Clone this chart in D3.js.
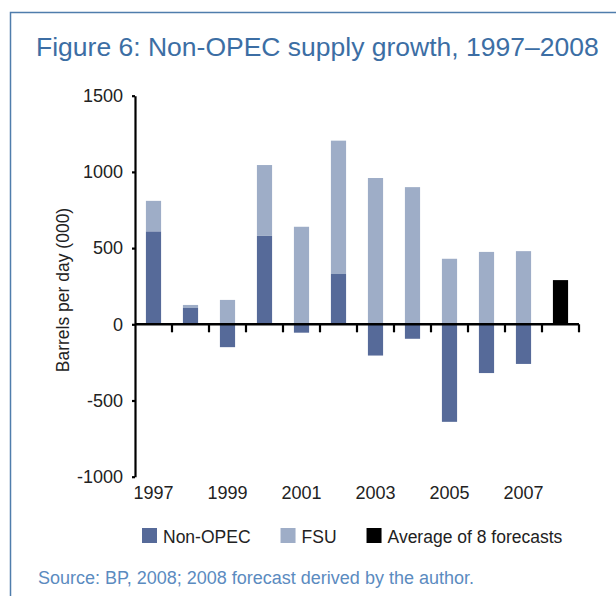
<!DOCTYPE html>
<html>
<head>
<meta charset="utf-8">
<script src="https://cdn.jsdelivr.net/npm/d3@7"></script>
<style>
  body { margin: 0; background: #fff; }
  svg { display: block; font-family: "Liberation Sans", Arial, sans-serif; }
</style>
</head>
<body>
<div id="chart"></div>
<script>
// data (thousand barrels per day)
const years = ["1997", "1998", "1999", "2000", "2001", "2002", "2003", "2004", "2005", "2006", "2007", "2008"];
const nonOpec = [610, 107, -150, 580, -55, 330, -205, -95, -640, -320, -260, null];
const fsu = [200, 20, 160, 465, 640, 875, 960, 900, 430, 475, 480, null];
const forecast = [null, null, null, null, null, null, null, null, null, null, null, 290];
const xTickLabels = ["1997", "1999", "2001", "2003", "2005", "2007"];
const yTicks = [-1000, -500, 0, 500, 1000, 1500];
const seriesNames = ["Non-OPEC", "FSU", "Average of 8 forecasts"];
const seriesColors = ["#566a99", "#9eadc7", "#000000"];

const width = 616, height = 596;
const plot = { left: 135, right: 579, top: 95.7, bottom: 476.7 };

const svg = d3.select("#chart").append("svg")
    .attr("width", width)
    .attr("height", height);

svg.append("rect").attr("width", width).attr("height", height).attr("fill", "#fff");

// frame of the figure box (top and left edges only)
svg.append("path")
    .attr("d", `M10.5,${height} V12.5 H${width}`)
    .attr("fill", "none")
    .attr("stroke", "#4f7dac")
    .attr("stroke-width", 1.5);

// title
svg.append("text")
    .attr("x", 36)
    .attr("y", 56)
    .attr("fill", "#3c6ea4")
    .style("font-size", "26.5px")
    .text("Figure 6: Non-OPEC supply growth, 1997\u20132008");

const x = d3.scaleBand()
    .domain(years)
    .range([plot.left, plot.right])
    .paddingInner(0.59)
    .paddingOuter(0.295);

const y = d3.scaleLinear()
    .domain([-1000, 1500])
    .range([plot.bottom, plot.top]);

// stacked bars: Non-OPEC from zero, FSU on top of the positive part
const rows = years.map((yr, i) => ({
    year: yr,
    nonOpec: nonOpec[i],
    fsu: fsu[i],
    forecast: forecast[i]
}));

const g = svg.append("g");

g.selectAll("rect.nonopec")
    .data(rows.filter(d => d.nonOpec != null))
    .enter().append("rect")
    .attr("class", "nonopec")
    .attr("x", d => x(d.year))
    .attr("width", x.bandwidth())
    .attr("y", d => y(Math.max(0, d.nonOpec)))
    .attr("height", d => Math.abs(y(d.nonOpec) - y(0)))
    .attr("fill", seriesColors[0]);

g.selectAll("rect.fsu")
    .data(rows.filter(d => d.fsu != null))
    .enter().append("rect")
    .attr("class", "fsu")
    .attr("x", d => x(d.year))
    .attr("width", x.bandwidth())
    .attr("y", d => y(Math.max(0, d.nonOpec) + d.fsu))
    .attr("height", d => y(Math.max(0, d.nonOpec)) - y(Math.max(0, d.nonOpec) + d.fsu))
    .attr("fill", seriesColors[1]);

g.selectAll("rect.forecast")
    .data(rows.filter(d => d.forecast != null))
    .enter().append("rect")
    .attr("class", "forecast")
    .attr("x", d => x(d.year))
    .attr("width", x.bandwidth())
    .attr("y", d => y(d.forecast))
    .attr("height", d => y(0) - y(d.forecast))
    .attr("fill", seriesColors[2]);

// y axis
const yAxis = svg.append("g")
    .attr("transform", `translate(${plot.left},0)`)
    .call(d3.axisLeft(y).tickValues(yTicks).tickFormat(d => String(d))
        .tickSize(3).tickPadding(9).tickSizeOuter(0));
yAxis.select(".domain").attr("stroke", "#000").attr("stroke-width", 2.2);
yAxis.selectAll(".tick line").attr("stroke-width", 2.2);
yAxis.selectAll("text")
    .attr("fill", "#222")
    .style("font-size", "18px")
    .style("font-family", "Liberation Sans, Arial, sans-serif");

// zero line with ticks between categories
const zeroAxis = svg.append("g")
    .attr("transform", `translate(0,${y(0)})`);
zeroAxis.append("line")
    .attr("x1", plot.left).attr("x2", plot.right)
    .attr("stroke", "#000").attr("stroke-width", 2.5);
zeroAxis.selectAll("line.sep")
    .data(years)
    .enter().append("line")
    .attr("class", "sep")
    .attr("x1", d => x(d) + x.bandwidth() + x.step() * x.paddingInner() / 2)
    .attr("x2", d => x(d) + x.bandwidth() + x.step() * x.paddingInner() / 2)
    .attr("y1", 0).attr("y2", 8)
    .attr("stroke", "#000").attr("stroke-width", 2.2);

// year labels under the plot
const xAxis = svg.append("g")
    .attr("transform", `translate(0,${plot.bottom})`)
    .call(d3.axisBottom(x).tickValues(xTickLabels).tickSize(0).tickPadding(10));
xAxis.select(".domain").remove();
xAxis.selectAll("text")
    .attr("fill", "#222")
    .style("font-size", "18px")
    .style("font-family", "Liberation Sans, Arial, sans-serif");

// y axis title
svg.append("text")
    .attr("transform", "translate(69,290) rotate(-90)")
    .attr("text-anchor", "middle")
    .attr("fill", "#222")
    .style("font-size", "17.5px")
    .text("Barrels per day (000)");

// legend
const legend = svg.append("g").attr("transform", "translate(142,528)");
let lx = 0;
seriesNames.forEach((name, i) => {
    const item = legend.append("g").attr("transform", `translate(${lx},0)`);
    item.append("rect")
        .attr("width", 15).attr("height", 15)
        .attr("fill", seriesColors[i]);
    const t = item.append("text")
        .attr("x", 21).attr("y", 15)
        .attr("fill", "#222")
        .style("font-size", "17.5px")
        .text(name);
    lx += 21 + t.node().getComputedTextLength() + 30;
});

// source note
svg.append("text")
    .attr("x", 38)
    .attr("y", 584)
    .attr("fill", "#5b8bbf")
    .style("font-size", "18px")
    .text("Source: BP, 2008; 2008 forecast derived by the author.");
</script>
</body>
</html>
